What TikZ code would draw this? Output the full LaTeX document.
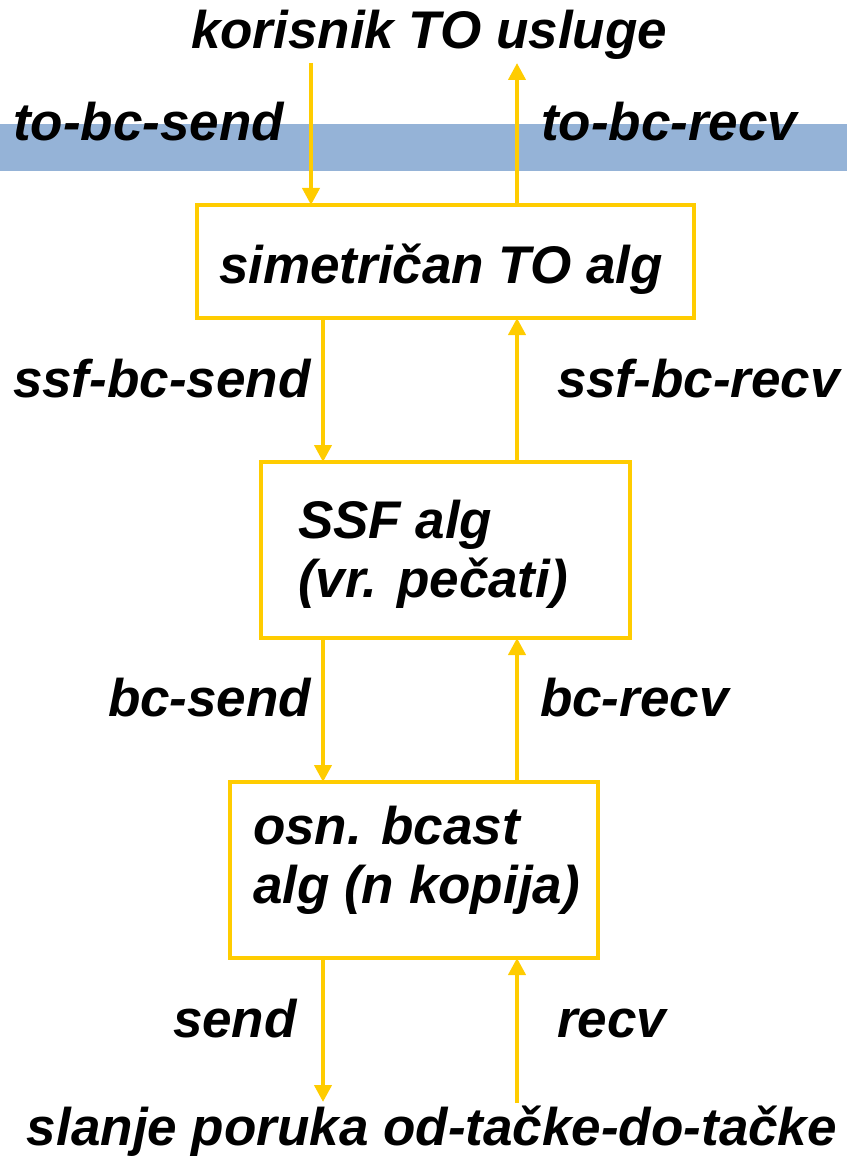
\documentclass[tikz,border=0pt]{standalone}
\usepackage{fontspec}
\setmainfont{Liberation Sans}
\usepackage{tikz}
\usetikzlibrary{arrows.meta}

\definecolor{tyellow}{RGB}{255,204,0}
\definecolor{tband}{RGB}{149,179,215}

\begin{document}
\begin{tikzpicture}[x=1pt,y=-1pt]

\tikzstyle{every node}+=[inner sep=0pt, outer sep=0pt]
\tikzstyle{lbl}=[anchor=base west, font=\fontsize{53}{59}\selectfont\bfseries\itshape]
\tikzstyle{box}=[draw=tyellow, line width=4.5pt, rectangle]
\tikzstyle{flow}=[draw=tyellow, line width=4pt, -{Triangle[width=17pt,length=17pt]}]

\useasboundingbox (0,0) rectangle (847,1158);
\fill [tband] (0,124) rectangle (847,171.5);

\coordinate (L) at (323,0);
\coordinate (R) at (517,0);
\coordinate (usrL) at (311,63);
\coordinate (usrR) at (517,63);
\coordinate (netL) at (323,1102);
\coordinate (netR) at (517,1103);

\node [box, minimum width=497pt, minimum height=113pt] (algTO) at (445.5,261.5) {};
\node [box, minimum width=369pt, minimum height=176pt] (ssf) at (445.5,550) {};
\node [box, minimum width=368pt, minimum height=176pt] (bcast) at (414,870) {};

\node [lbl] (user) at (191,49) {korisnik TO usluge};
\node [lbl] (tosend) at (13,141) {to-bc-send};
\node [lbl] (torecv) at (541,141) {to-bc-recv};
\node [lbl] (algTOtxt) at (219,283) {simetričan TO alg};
\node [lbl] (ssfsend) at (13,397) {ssf-bc-send};
\node [lbl] (ssfrecv) at (557,397) {ssf-bc-recv};
\node [lbl] (ssftxtA) at (298,538) {SSF alg};
\node [lbl] (ssftxtB) at (298,597) {(vr. pečati)};
\node [lbl] (bcsend) at (108,716) {bc-send};
\node [lbl] (bcrecv) at (540,716) {bc-recv};
\node [lbl] (bcasttxtA) at (253,844) {osn. bcast};
\node [lbl] (bcasttxtB) at (253,903) {alg (n kopija)};
\node [lbl] (send) at (173,1037) {send};
\node [lbl] (recv) at (557,1037) {recv};
\node [lbl] (net) at (27,1145) {slanje poruka od-tačke-do-tačke};

% arrows between layers
\draw [flow] (usrL) -- (usrL |- algTO.north);
\draw [flow] (R |- algTO.north) -- (usrR);
\draw [flow] (L |- algTO.south) -- (L |- ssf.north);
\draw [flow] (R |- ssf.north) -- (R |- algTO.south);
\draw [flow] (L |- ssf.south) -- (L |- bcast.north);
\draw [flow] (R |- bcast.north) -- (R |- ssf.south);
\draw [flow] (L |- bcast.south) -- (netL);
\draw [flow] (netR) -- (R |- bcast.south);

\end{tikzpicture}
\end{document}
